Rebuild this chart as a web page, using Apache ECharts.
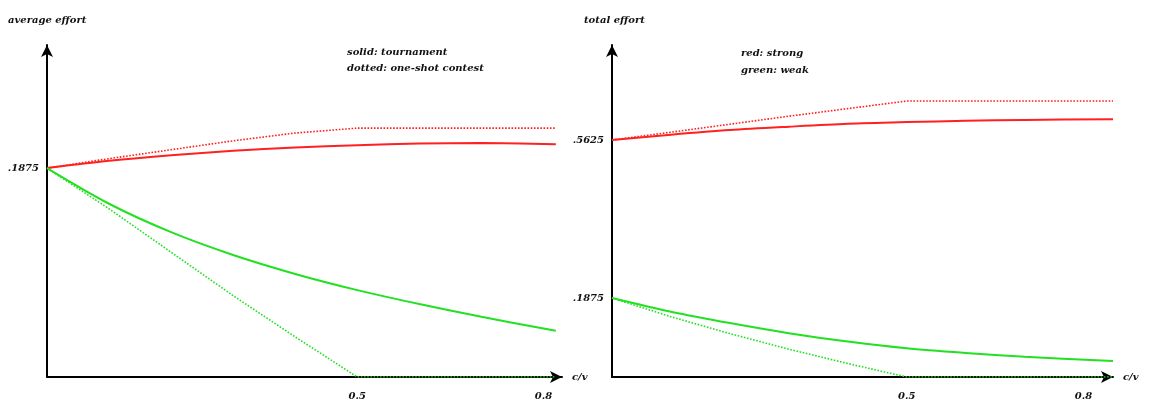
<!DOCTYPE html>
<html><head><meta charset="utf-8">
<script src="https://cdn.jsdelivr.net/npm/echarts@6/dist/echarts.min.js"></script>
<style>html,body{margin:0;padding:0;background:#fff}#c{width:1164px;height:403px}</style>
</head><body><div id="c"></div>
<script>
// ---- data ----
const cLeft  = [0, 0.1, 0.2, 0.3, 0.4, 0.5, 0.6, 0.7, 0.82];
const cRight = [0, 0.1, 0.2, 0.3, 0.4, 0.5, 0.6, 0.7, 0.85];
// average effort (left panel)
const avgTournamentStrong = [0.1875, 0.194, 0.199, 0.203, 0.206, 0.208, 0.2095, 0.210, 0.209];
const avgOneShotStrong    = [0.1875, 0.196, 0.204, 0.212, 0.219, 0.2234, 0.2234, 0.2234, 0.2234];
const avgTournamentWeak   = [0.1875, 0.1555, 0.130, 0.1095, 0.0925, 0.078, 0.0655, 0.054, 0.0415];
const avgOneShotWeak      = [0.1875, 0.151, 0.112, 0.073, 0.036, 0, 0, 0, 0];
// total effort (right panel)
const totTournamentStrong = [0.5625, 0.575, 0.586, 0.594, 0.601, 0.605, 0.608, 0.610, 0.612];
const totOneShotStrong    = [0.5625, 0.581, 0.600, 0.619, 0.637, 0.655, 0.655, 0.655, 0.655];
const totTournamentWeak   = [0.1875, 0.155, 0.128, 0.104, 0.084, 0.068, 0.057, 0.048, 0.038];
const totOneShotWeak      = [0.1875, 0.143, 0.103, 0.066, 0.032, 0, 0, 0, 0];
// tick labels
const xTicks = [0.5, 0.8];
const yTicksLeft = [0.1875];
const yTicksRight = [0.1875, 0.5625];
const xName = 'c/v';

const RED = '#ff2020', GREEN = '#22e022';
const FONT = {fontFamily: 'DejaVu Serif', fontStyle: 'italic', fontWeight: 'bold', fontSize: 10, color: '#111'};
const pairs = (xs, ys) => xs.map((x, i) => [x, ys[i]]);
const fmtY = v => String(v).replace(/^0/, '');

function xAxis(idx, max) {
  return {
    gridIndex: idx, type: 'value', min: 0, max: max,
    name: xName, nameLocation: 'end', nameGap: 10,
    nameTextStyle: Object.assign({}, FONT, {verticalAlign: 'middle'}),
    axisLine: {show: true, symbol: ['none', 'arrow'], symbolSize: [9, 12], lineStyle: {color: '#000', width: 2}},
    axisTick: {show: false},
    splitLine: {show: false},
    axisLabel: Object.assign({}, FONT, {customValues: xTicks, margin: 14, formatter: v => v.toFixed(1)})
  };
}
function yAxis(idx, max, ticks) {
  return {
    gridIndex: idx, type: 'value', min: 0, max: max,
    axisLine: {show: true, symbol: ['none', 'arrow'], symbolSize: [9, 12], lineStyle: {color: '#000', width: 2}},
    axisTick: {show: false},
    splitLine: {show: false},
    axisLabel: Object.assign({}, FONT, {customValues: ticks, margin: 8, formatter: fmtY})
  };
}
function line(gi, xs, ys, color, dotted) {
  return {
    type: 'line', xAxisIndex: gi, yAxisIndex: gi, data: pairs(xs, ys),
    smooth: dotted ? false : 0.3, symbol: 'none', silent: true, z: dotted ? 3 : 4,
    lineStyle: {color: color, width: dotted ? 1.6 : 2, type: dotted ? 'dotted' : 'solid'}
  };
}

const chart = echarts.init(document.getElementById('c'));
chart.setOption({
  animation: false,
  backgroundColor: '#fff',
  grid: [
    {left: 47, top: 45, width: 515, height: 332},
    {left: 612, top: 45, width: 501, height: 332}
  ],
  xAxis: [xAxis(0, 0.83), xAxis(1, 0.85)],
  yAxis: [yAxis(0, 0.298, yTicksLeft), yAxis(1, 0.788, yTicksRight)],
  series: [
    line(0, cLeft, avgTournamentStrong, RED, false),
    line(0, cLeft, avgOneShotStrong, RED, true),
    line(0, cLeft, avgTournamentWeak, GREEN, false),
    line(0, cLeft, avgOneShotWeak, GREEN, true),
    line(1, cRight, totTournamentStrong, RED, false),
    line(1, cRight, totOneShotStrong, RED, true),
    line(1, cRight, totTournamentWeak, GREEN, false),
    line(1, cRight, totOneShotWeak, GREEN, true)
  ],
  graphic: [
    {type: 'text', left: 8, top: 15, style: {text: 'average effort', fill: '#111', font: 'italic bold 10px DejaVu Serif'}},
    {type: 'text', left: 584, top: 15, style: {text: 'total effort', fill: '#111', font: 'italic bold 10px DejaVu Serif'}},
    {type: 'text', left: 347, top: 44, style: {text: 'solid: tournament\ndotted: one-shot contest', fill: '#111', lineHeight: 16, font: 'italic bold 10px DejaVu Serif'}},
    {type: 'text', left: 741, top: 45, style: {text: 'red: strong\ngreen: weak', fill: '#111', lineHeight: 17, font: 'italic bold 10px DejaVu Serif'}}
  ]
});
</script></body></html>
